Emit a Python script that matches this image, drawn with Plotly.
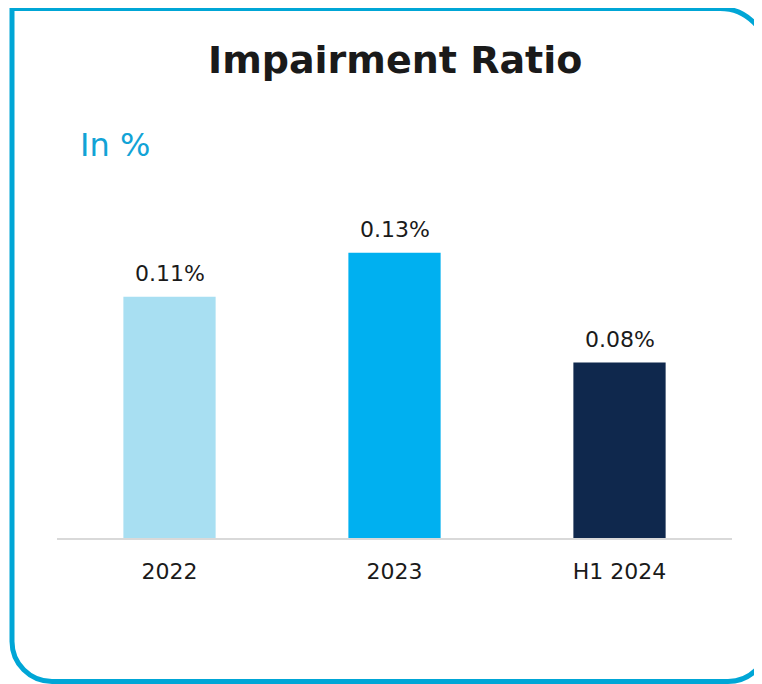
import plotly.graph_objects as go

# Data
categories = ["2022", "2023", "H1 2024"]
values = [0.11, 0.13, 0.08]
labels = ["0.11%", "0.13%", "0.08%"]
bar_colors = ["#a8dff2", "#00b0f0", "#0f284d"]

# the page body keeps its 8px margin, so the figure is 8px smaller than the window
OFF = 8
W, H = 762 - OFF, 684 - OFF
BORDER = "#00a6d6"


def px(x, y):
    # window pixel position -> paper coords
    return f"{(x - OFF) / W:.5f},{1 - (y - OFF) / H:.5f}"


def rounded_frame(x0, y0, x1, y1, r_tr, r_br, r_bl):
    k = 0.5523
    p = f"M {px(x0, y0)} L {px(x1 - r_tr, y0)} "
    p += f"C {px(x1 - r_tr + k * r_tr, y0)} {px(x1, y0 + r_tr - k * r_tr)} {px(x1, y0 + r_tr)} "
    p += f"L {px(x1, y1 - r_br)} "
    p += f"C {px(x1, y1 - r_br + k * r_br)} {px(x1 - r_br + k * r_br, y1)} {px(x1 - r_br, y1)} "
    p += f"L {px(x0 + r_bl, y1)} "
    p += f"C {px(x0 + r_bl - k * r_bl, y1)} {px(x0, y1 - r_bl + k * r_bl)} {px(x0, y1 - r_bl)} Z"
    return p


fig = go.Figure()

fig.add_trace(go.Bar(
    x=categories,
    y=values,
    marker=dict(color=bar_colors, line=dict(width=0)),
    hoverinfo="skip",
))

# value labels above the bars (x given as category index)
for i, (v, t) in enumerate(zip(values, labels)):
    fig.add_annotation(
        x=i, y=v, text=t, showarrow=False,
        yanchor="bottom", yshift=9,
        font=dict(family="DejaVu Sans", size=22, color="#1a1a1a"),
    )

# frame
fig.add_shape(
    type="path", xref="paper", yref="paper",
    path=rounded_frame(12, 8.5, 768, 681.5, 48, 40, 40),
    line=dict(color=BORDER, width=5),
    fillcolor="rgba(0,0,0,0)",
    layer="above",
)

fig.add_annotation(
    x=(395 - OFF) / W, y=1 - (60 - OFF) / H, xref="paper", yref="paper",
    text="<b>Impairment Ratio</b>", showarrow=False,
    xanchor="center", yanchor="middle",
    font=dict(family="DejaVu Sans", size=38, color="#1a1a1a"),
)
fig.add_annotation(
    x=(78 - OFF) / W, y=1 - (145 - OFF) / H, xref="paper", yref="paper",
    text="In %", showarrow=False,
    xanchor="left", yanchor="middle",
    font=dict(family="DejaVu Sans", size=32, color="#12a3d6"),
)

fig.update_layout(
    width=W, height=H,
    margin=dict(l=0, r=0, t=0, b=0),
    paper_bgcolor="white",
    plot_bgcolor="white",
    showlegend=False,
    bargap=0.59,
    xaxis=dict(
        type="category",
        range=[-0.5, len(categories) - 0.5],
        domain=[(57 - OFF) / W, (732 - OFF) / W],
        showline=True, linecolor="#d9d9d9", linewidth=2,
        showgrid=False, ticks="", ticklabelstandoff=13,
        tickfont=dict(family="DejaVu Sans", size=22, color="#1a1a1a"),
        fixedrange=True,
    ),
    yaxis=dict(
        domain=[1 - (538 - OFF) / H, 1 - (209 - OFF) / H],
        range=[0, 0.15],
        visible=False, showgrid=False, zeroline=False,
        fixedrange=True,
    ),
)

fig.write_html("out.html")
